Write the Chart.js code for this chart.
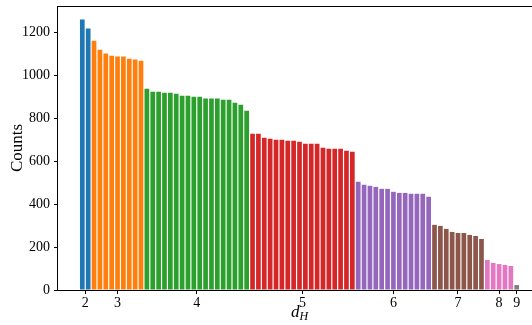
<!DOCTYPE html>
<html>
<head>
<meta charset="utf-8">
<script src="https://cdn.jsdelivr.net/npm/chart.js@4.4.1/dist/chart.umd.min.js"></script>
<style>
	html, body { margin: 0; padding: 0; background: #fff; overflow: hidden; }
	#wrap { position: relative; width: 546px; height: 325px; }
</style>
</head>
<body>
<div id="wrap"><canvas id="dhChart" width="546" height="325"></canvas></div>
<script>
	// Hamming distance groups and bar counts
	var dHLabels = [ 2, 3, 4, 5, 6, 7, 8, 9 ];
	var counts2 = [ 1262, 1220 ];
	var counts3 = [ 1163, 1121, 1103, 1093, 1089, 1089, 1079, 1075, 1070 ];
	var counts4 = [ 939, 925, 925, 920, 920, 916, 906, 906, 902, 902, 893, 893, 893, 888, 888, 874, 864, 836 ];
	var counts5 = [ 729, 729, 710, 706, 701, 701, 696, 696, 692, 682, 682, 682, 664, 659, 659, 659, 650, 645 ];
	var counts6 = [ 505, 491, 486, 481, 472, 472, 458, 453, 453, 449, 449, 449, 435 ];
	var counts7 = [ 304, 299, 285, 271, 266, 266, 257, 252, 238 ];
	var counts8 = [ 140, 126, 121, 117, 112 ];
	var counts9 = [ 23 ];
	var yTicks = [ 0, 200, 400, 600, 800, 1000, 1200 ];

	var groups = [ counts2, counts3, counts4, counts5, counts6, counts7, counts8, counts9 ];
	var colors = [ '#1f77b4', '#ff7f0e', '#2ca02c', '#d62728', '#9467bd', '#8c564b', '#e377c2', '#7f7f7f' ];

	var points = [];
	var barColors = [];
	var centers = [];
	var idx = 0;
	groups.forEach( function( g, gi ) {
		centers.push( idx + ( g.length - 1 ) / 2 );
		g.forEach( function( v ) {
			points.push( { x: idx, y: v } );
			barColors.push( colors[gi] );
			idx++;
		});
	});

	var n = points.length;
	var pad = 0.05 * ( n - 1 + 0.8 );
	var xMin = -0.4 - pad;
	var xMax = n - 1 + 0.4 + pad;
	var yMax = 1262 * 1.05;

	var serif = '"Liberation Serif", "DejaVu Serif", serif';

	// frame + x axis title with subscript
	var framePlugin = {
		id: 'frame',
		afterDraw: function( chart ) {
			var a = chart.chartArea;
			var ctx = chart.ctx;
			ctx.save();
			ctx.strokeStyle = '#000';
			ctx.lineWidth = 1;
			ctx.strokeRect( Math.round( a.left ) - 0.5, Math.round( a.top ) + 0.5,
				Math.round( a.right - a.left ) + 1, Math.round( a.bottom - a.top ) );

			var cx = ( a.left + a.right ) / 2;
			ctx.fillStyle = '#000';
			ctx.textBaseline = 'alphabetic';
			ctx.textAlign = 'left';
			ctx.font = 'italic 17px ' + serif;
			var dw = ctx.measureText( 'd' ).width;
			ctx.font = 'italic 12px ' + serif;
			var hw = ctx.measureText( 'H' ).width;
			var x0 = cx - ( dw + hw ) / 2;
			ctx.font = 'italic 17px ' + serif;
			ctx.fillText( 'd', x0, a.bottom + 27 );
			ctx.font = 'italic 12px ' + serif;
			ctx.fillText( 'H', x0 + dw, a.bottom + 30 );
			ctx.restore();
		}
	};

	new Chart( document.getElementById( 'dhChart' ).getContext( '2d' ), {
		type: 'bar',
		data: {
			datasets: [{
				data: points,
				backgroundColor: barColors,
				borderWidth: 0,
				barPercentage: 0.8,
				categoryPercentage: 1.0
			}]
		},
		options: {
			responsive: false,
			animation: false,
			layout: { padding: { top: 6, right: 5, left: 0, bottom: 0 } },
			plugins: {
				legend: { display: false },
				tooltip: { enabled: false }
			},
			scales: {
				x: {
					type: 'linear',
					min: xMin,
					max: xMax,
					offset: false,
					border: { display: false },
					grid: { offset: false, drawOnChartArea: false, drawTicks: true, tickLength: 4, color: '#000' },
					afterBuildTicks: function( scale ) {
						scale.ticks = centers.map( function( c ) { return { value: c }; } );
					},
					ticks: {
						autoSkip: false,
						maxRotation: 0,
						padding: 1,
						color: '#000',
						font: { family: serif, size: 14 },
						callback: function( value, index ) { return String( dHLabels[index] ); }
					},
					afterFit: function( scale ) {
						scale.height = 35;
						scale.paddingLeft = 0;
						scale.paddingRight = 0;
					}
				},
				y: {
					min: 0,
					max: yMax,
					border: { display: false },
					grid: { drawOnChartArea: false, drawTicks: true, tickLength: 4, color: '#000' },
					afterBuildTicks: function( scale ) {
						scale.ticks = yTicks.map( function( v ) { return { value: v }; } );
					},
					ticks: {
						padding: 4,
						color: '#000',
						font: { family: serif, size: 14 },
						callback: function( value ) { return String( value ); }
					},
					title: {
						display: true,
						text: 'Counts',
						color: '#000',
						font: { family: serif, size: 17 },
						padding: { top: 7, bottom: 0 }
					},
					afterFit: function( scale ) {
						scale.width = 58;
						scale.paddingTop = 0;
						scale.paddingBottom = 0;
					}
				}
			}
		},
		plugins: [ framePlugin ]
	});
</script>
</body>
</html>
